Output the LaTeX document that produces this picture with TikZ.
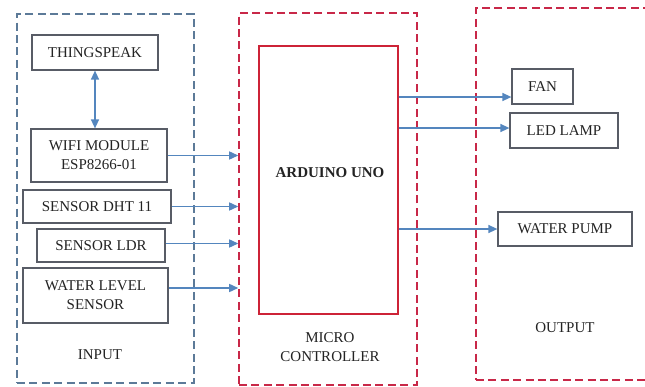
\documentclass[tikz,border=0pt]{standalone}
\usepackage{fontspec}
\setmainfont{Liberation Serif}
\usepackage{xcolor}
\usetikzlibrary{arrows.meta,positioning}

\definecolor{arblue}{RGB}{84,134,190}
\definecolor{grpblue}{RGB}{92,122,152}
\definecolor{grpred}{RGB}{200,40,72}
\definecolor{unored}{RGB}{205,35,55}
\definecolor{boxgray}{RGB}{88,92,102}
\definecolor{txt}{RGB}{35,35,35}

\begin{document}
\begin{tikzpicture}[
  x=0.5pt, y=-0.5pt,
  font=\fontsize{7.5}{9.5}\selectfont, text=txt,
  box/.style={draw=boxgray, line width=0.6pt, align=center, inner sep=0pt},
  group/.style={draw, line width=0.75pt, dash pattern=on 4pt off 2.2pt, inner sep=0pt},
  inpgrp/.style={group, draw=grpblue},
  redgrp/.style={group, draw=grpred},
  unobox/.style={draw=unored, line width=0.75pt, inner sep=0pt},
  note/.style={align=center},
  ar/.style={-{Triangle[length=4.5pt, width=4pt]}, arblue, line width=0.7pt},
  dar/.style={{Triangle[length=4.5pt, width=4pt]}-{Triangle[length=4.5pt, width=4pt]}, arblue, line width=0.7pt},
]
\useasboundingbox (0,0) rectangle (645,387);

% ---------------- group frames ----------------
\node[inpgrp, minimum width=88.5pt, minimum height=184.5pt] (input) at (105.5,198.5) {};
\node[redgrp, minimum width=89pt, minimum height=186pt] (mcu) at (328,199) {};
\node[redgrp, minimum width=112pt, minimum height=186pt] (output) at (588,194) {};

\node[note] (inlab) at (100,355) {INPUT};
\node[note] (mculab) at (330,347) {MICRO\\CONTROLLER};
\node[note] (outlab) at (565,328) {OUTPUT};

% ---------------- input side ----------------
\node[box, minimum width=63pt, minimum height=17.5pt] (ts) at (95,52.5) {THINGSPEAK};
\node[box, minimum width=68pt, minimum height=26.5pt] (wifi) at (99,155.5) {WIFI MODULE\\ESP8266-01};
\node[box, minimum width=74pt, minimum height=16.5pt] (dht) at (97,206.5) {SENSOR DHT 11};
\node[box, minimum width=64pt, minimum height=16.5pt] (ldr) at (101,245.5) {SENSOR LDR};
\node[box, minimum width=72.5pt, minimum height=27.5pt] (wls) at (95.5,295.5) {WATER LEVEL\\SENSOR};

\draw[dar] (ts.south) -- (ts.south |- wifi.north);
\draw[ar] (wifi.east) -- (wifi.east -| mcu.west);
\draw[ar] (dht.east) -- (dht.east -| mcu.west);
\draw[ar] ([yshift=1pt]ldr.east) -- ([yshift=1pt]ldr.east -| mcu.west);
\draw[ar] ([yshift=3.75pt]wls.east) -- ([yshift=3.75pt]wls.east -| mcu.west);

% ---------------- controller ----------------
\node[unobox, minimum width=69.5pt, minimum height=134pt] (uno) at (328.5,180) {};
\node[font=\fontsize{7.5}{9.5}\selectfont\bfseries] (unotxt) at (330,173) {ARDUINO UNO};

% ---------------- output side ----------------
\node[box, minimum width=30.5pt, minimum height=17.5pt] (fan) at (542.5,86.5) {FAN};
\node[box, minimum width=54pt, minimum height=17.5pt] (lamp) at (564,130.5) {LED LAMP};
\node[box, minimum width=67pt, minimum height=17pt] (pump) at (565,229) {WATER PUMP};

\draw[ar] ([yshift=-5.25pt]fan.west -| uno.east) -- ([yshift=-5.25pt]fan.west);
\draw[ar] ([yshift=1.25pt]lamp.west -| uno.east) -- ([yshift=1.25pt]lamp.west);
\draw[ar] (pump.west -| uno.east) -- (pump.west);
\end{tikzpicture}
\end{document}
